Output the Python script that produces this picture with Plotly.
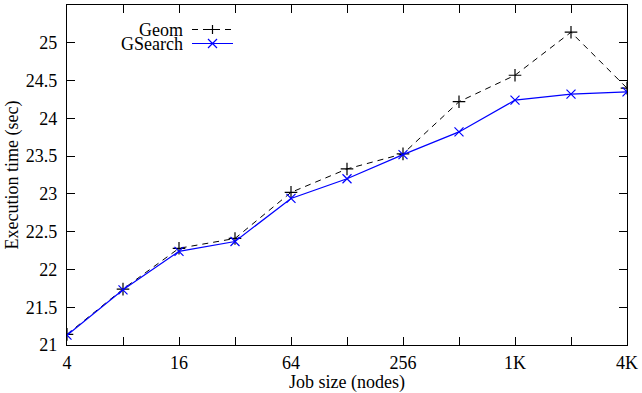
import plotly.graph_objects as go

# Job sizes (nodes) and measured execution times (sec)
job_sizes = [4, 8, 16, 32, 64, 128, 256, 512, 1024, 2048, 4096]
geom_times = [21.14, 21.74, 22.28, 22.41, 23.02, 23.33, 23.53, 24.22, 24.57, 25.14, 24.40]
gsearch_times = [21.13, 21.73, 22.24, 22.37, 22.94, 23.20, 23.52, 23.82, 24.24, 24.32, 24.35]

series_names = ["Geom", "GSearch"]
x_tick_text = ["4", "", "16", "", "64", "", "256", "", "1K", "", "4K"]
y_ticks = [21, 21.5, 22, 22.5, 23, 23.5, 24, 24.5, 25, 25.5]

W, H = 642, 393
ML, MR, MT, MB = 67, 15, 5, 48
PW, PH = W - ML - MR, H - MT - MB

FONT = "Liberation Serif, Times New Roman, serif"
FS = 18
BLUE = "#0000ff"

fig = go.Figure()
fig.add_trace(go.Scatter(
    x=job_sizes, y=geom_times, name=series_names[0], mode="lines+markers",
    line=dict(color="black", width=1, dash="6px,5px"),
    marker=dict(symbol="cross-thin", size=9, line=dict(color="black", width=1.2)),
    showlegend=False,
))
fig.add_trace(go.Scatter(
    x=job_sizes, y=gsearch_times, name=series_names[1], mode="lines+markers",
    line=dict(color=BLUE, width=1.2),
    marker=dict(symbol="x-thin", size=9, line=dict(color=BLUE, width=1.2)),
    showlegend=False,
))


def px(x):
    return (x - ML) / PW


def py(y):
    return (H - MB - y) / PH


# key: label right-aligned, then a sample line with its marker
key_rows = [(29.5, "black", "6px,5px", "plus"), (43.5, BLUE, "solid", "x")]
shapes = []
annotations = []
for name, (yk, col, dash, sym) in zip(series_names, key_rows):
    annotations.append(dict(
        x=px(184), y=py(yk), xref="paper", yref="paper", text=name,
        showarrow=False, xanchor="right", yanchor="middle", height=13,
        borderpad=0, font=dict(family=FONT, size=FS, color="black"),
    ))
    shapes.append(dict(type="line", xref="paper", yref="paper",
                       x0=px(192), x1=px(233), y0=py(yk), y1=py(yk),
                       line=dict(color=col, width=1.2, dash=dash)))
    cx, r = 212.5, 4.5
    if sym == "plus":
        path = (f"M{px(cx - r)},{py(yk)} L{px(cx + r)},{py(yk)} "
                f"M{px(cx)},{py(yk - r)} L{px(cx)},{py(yk + r)}")
    else:
        path = (f"M{px(cx - r)},{py(yk - r)} L{px(cx + r)},{py(yk + r)} "
                f"M{px(cx - r)},{py(yk + r)} L{px(cx + r)},{py(yk - r)}")
    shapes.append(dict(type="path", xref="paper", yref="paper", path=path,
                       line=dict(color=col, width=1.2)))

axis_common = dict(
    showgrid=False, zeroline=False, showline=True, linecolor="black",
    linewidth=1.2, mirror="ticks", ticks="inside", ticklen=8, tickwidth=1,
    tickcolor="black", tickfont=dict(family=FONT, size=FS, color="black"),
)

fig.update_layout(
    width=W, height=H,
    margin=dict(l=ML, r=MR, t=MT, b=MB),
    paper_bgcolor="white", plot_bgcolor="white",
    font=dict(family=FONT, color="black"),
    shapes=shapes, annotations=annotations,
    xaxis=dict(
        type="log", range=[0.60206, 3.61236],
        tickvals=job_sizes, ticktext=x_tick_text, ticklabelstandoff=1,
        title=dict(text="Job size (nodes)", font=dict(family=FONT, size=FS), standoff=0),
        **axis_common,
    ),
    yaxis=dict(
        range=[21, 25.5], tickvals=y_ticks, ticklabelstandoff=5,
        title=dict(text="Execution time (sec)", font=dict(family=FONT, size=FS), standoff=2),
        **axis_common,
    ),
)

fig.write_html("out.html")
